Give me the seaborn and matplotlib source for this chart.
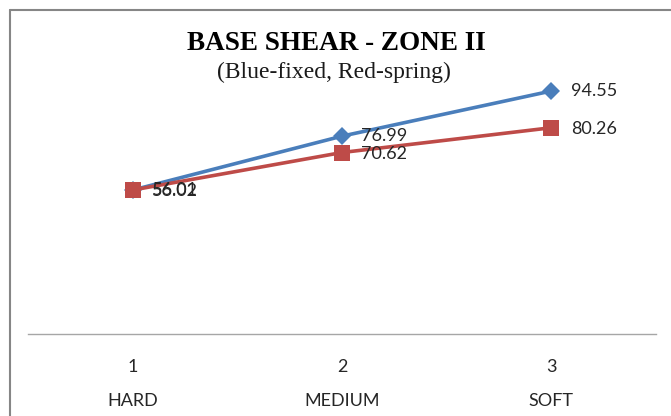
import pandas as pd
import matplotlib
matplotlib.use("Agg")
import matplotlib.pyplot as plt
from matplotlib.lines import Line2D
import seaborn as sns

# Data
positions = [1, 2, 3]
soil_types = ["HARD", "MEDIUM", "SOFT"]
fixed_shear = [56.01, 76.99, 94.55]
spring_shear = [56.02, 70.62, 80.26]

sns.set_style("white")
plt.rcParams['font.family'] = ['Lato', 'DejaVu Sans']

df = pd.DataFrame({
    "pos": positions * 2,
    "shear": fixed_shear + spring_shear,
    "base": ["fixed"] * 3 + ["spring"] * 3,
})

fig = plt.figure(figsize=(6.71, 4.16), dpi=100)
ax = fig.add_axes([28 / 671, 82 / 416, 628 / 671, 257 / 416])

colors = {"fixed": "#4A7EBB", "spring": "#BE4B48"}
sns.lineplot(data=df, x="pos", y="shear", hue="base", style="base",
             palette=colors, markers={"fixed": "D", "spring": "s"},
             dashes=False, linewidth=2.6, markersize=9, markeredgewidth=0,
             legend=False, ax=ax)
# make the square a bit bigger like the original
for line in ax.get_lines():
    if line.get_marker() == "s":
        line.set_markersize(11)

# data labels to the right of each point
for x, y in zip(positions, fixed_shear):
    ax.annotate(f"{y:.2f}", (x, y), xytext=(14, 0), textcoords="offset points",
                va="center", ha="left", fontsize=13, color="#262626")
for x, y in zip(positions, spring_shear):
    ax.annotate(f"{y:.2f}", (x, y), xytext=(14, -1), textcoords="offset points",
                va="center", ha="left", fontsize=13, color="#262626")

ax.set_xlim(0.5, 3.5)
ax.set_ylim(0, 100)
ax.set_xticks(positions)
ax.set_xticklabels([f"{p}\n{s}" for p, s in zip(positions, soil_types)],
                   fontsize=13, color="#262626", linespacing=2.35)
ax.tick_params(axis="x", length=0, pad=18)
ax.set_yticks([])
ax.set_xlabel("")
ax.set_ylabel("")
for side in ["top", "left", "right"]:
    ax.spines[side].set_visible(False)
ax.spines["bottom"].set_color("#A6A6A6")
ax.spines["bottom"].set_linewidth(1.0)

# title and subtitle
fig.text(336 / 671, 1 - 43 / 416, "BASE SHEAR - ZONE II", ha="center", va="center",
         fontsize=19.5, fontweight="bold", family="Liberation Serif", color="black")
fig.text(334 / 671, 1 - 72 / 416, "(Blue-fixed, Red-spring)", ha="center", va="center",
         fontsize=17, family="Liberation Serif", color="#1a1a1a")

# chart border (top and left edges visible in the reference)
fig.add_artist(Line2D([10 / 671, 10 / 671], [0, 1 - 10 / 416], color="#868686", lw=1.5))
fig.add_artist(Line2D([10 / 671, 1], [1 - 10 / 416, 1 - 10 / 416], color="#868686", lw=1.5))

fig.savefig("out.png", dpi=100)
